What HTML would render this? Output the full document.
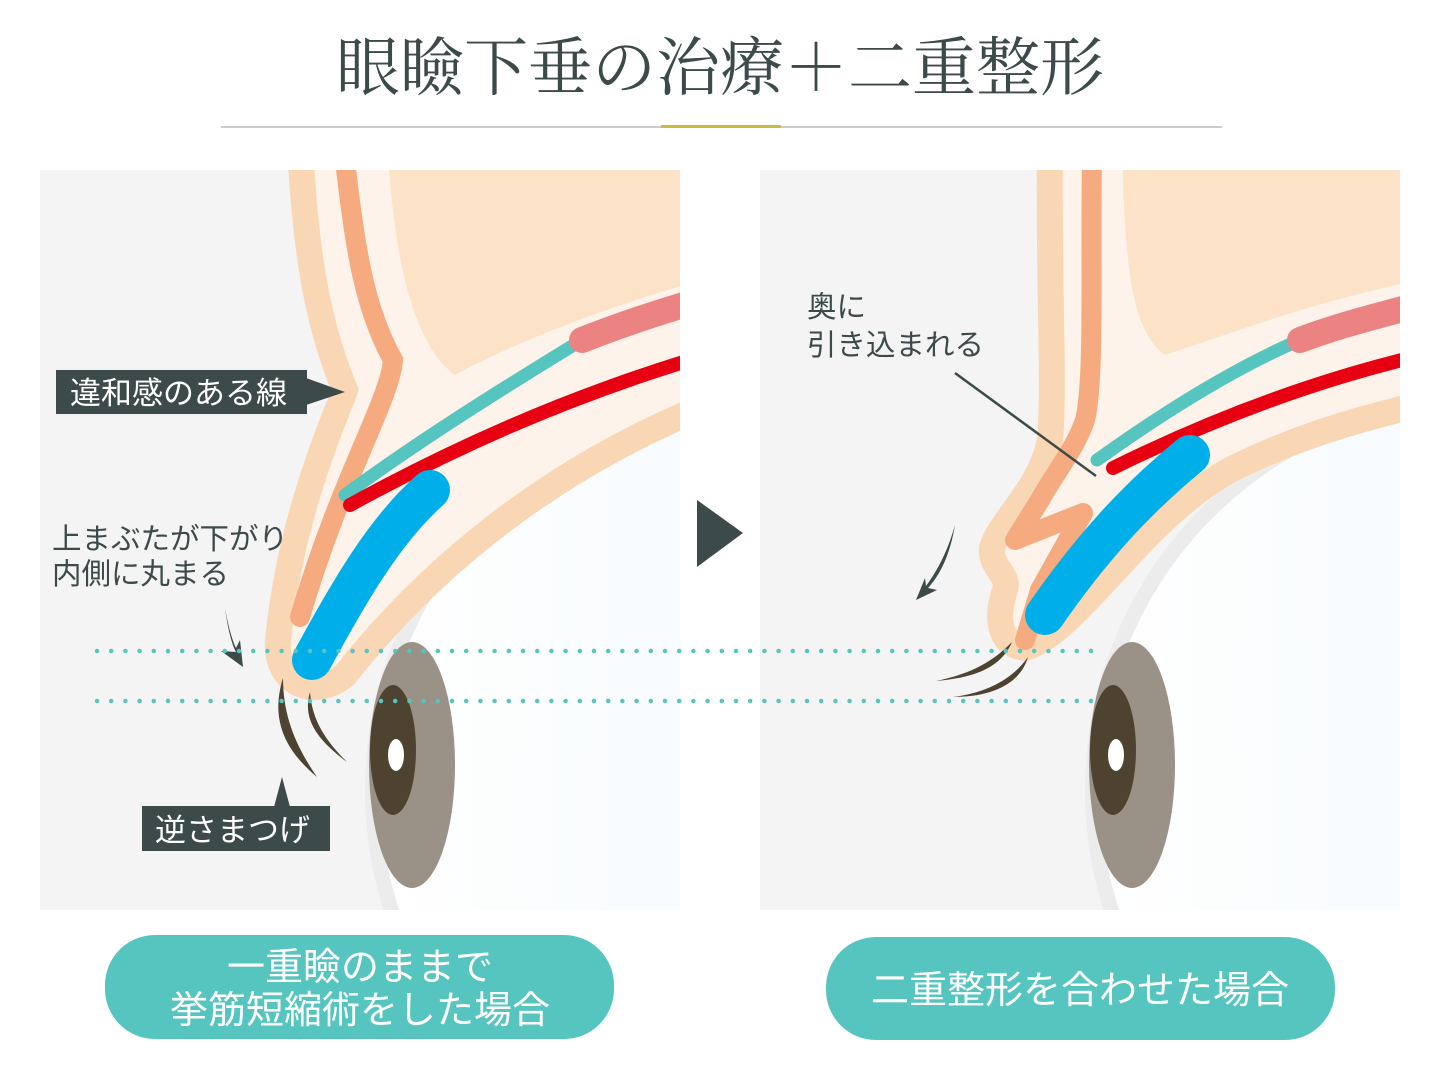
<!DOCTYPE html>
<html><head><meta charset="utf-8">
<style>
html,body{margin:0;padding:0;background:#fff;width:1440px;height:1080px;overflow:hidden;}
svg{display:block;}
text{font-family:"Liberation Sans","Noto Sans CJK JP",sans-serif;}
</style></head>
<body>
<svg width="1440" height="1080" viewBox="0 0 1440 1080" xmlns="http://www.w3.org/2000/svg">
<defs>
<clipPath id="cl"><rect x="40" y="170" width="640" height="740"/></clipPath>
<clipPath id="cr"><rect x="760" y="170" width="640" height="740"/></clipPath>
<linearGradient id="eg" x1="0" y1="0" x2="1" y2="0">
<stop offset="0" stop-color="#ffffff"/><stop offset="1" stop-color="#ecf6fb"/></linearGradient>
</defs>
<text x="720" y="90" text-anchor="middle" font-size="64" fill="#3d4a4a" font-family="'Noto Serif CJK SC','Liberation Serif',serif" style="font-family:'Noto Serif CJK SC','Liberation Serif',serif">眼瞼下垂の治療＋二重整形</text>
<rect x="221" y="126" width="1001" height="2" fill="#cccccc"/>
<rect x="661" y="125" width="120" height="3" fill="#c9bd3c"/>

<!-- LEFT PANEL -->
<g clip-path="url(#cl)">
<rect x="40" y="170" width="640" height="740" fill="#f4f4f4"/>
<circle cx="765" cy="790" r="400" fill="#ececec"/>
<circle cx="765" cy="790" r="385" fill="url(#eg)"/>
<path d="M300,140 C305,260 320,330 345,390 C330,430 290,520 278,640 C275,685 315,700 345,675 C420,580 540,470 720,400 L720,140 Z" fill="#fdf3ea" stroke="#fad7b4" stroke-width="26"/>
<path d="M388,150 C395,280 420,350 455,375 C520,340 600,310 700,280 L700,150 Z" fill="#fce3c8"/>
<path d="M345,160 C355,250 365,310 393,360 C390,400 340,480 300,617" fill="none" stroke="#f5aa80" stroke-width="20" stroke-linecap="round"/>
<path d="M345,495 C420,440 500,390 582,340" fill="none" stroke="#56c5bf" stroke-width="13" stroke-linecap="round"/>
<path d="M582,340 C620,325 650,315 690,303" fill="none" stroke="#ec8383" stroke-width="26" stroke-linecap="round"/>
<path d="M350,505 C450,450 560,400 690,360" fill="none" stroke="#e60012" stroke-width="14" stroke-linecap="round"/>
<path d="M312,660 C350,590 385,530 430,490" fill="none" stroke="#00afea" stroke-width="40" stroke-linecap="round"/>
<ellipse cx="412" cy="765" rx="43" ry="123" fill="#9a9287"/>
<ellipse cx="393" cy="750" rx="23" ry="65" fill="#4e4330"/>
<ellipse cx="396" cy="755" rx="8" ry="16" fill="#fff"/>
<path d="M283,678 C270,720 285,750 317,777 C295,745 283,715 283,678Z" fill="#4e4330"/>
<path d="M310,692 C302,720 318,740 347,762 C325,740 312,720 310,692Z" fill="#4e4330"/>
</g>
<rect x="56" y="370" width="251" height="44" fill="#3d4a4a"/>
<polygon points="306,378 345,392 306,405" fill="#3d4a4a"/>
<text x="70" y="404" font-size="31" fill="#fff">違和感のある線</text>
<rect x="142" y="806" width="188" height="45" fill="#3d4a4a"/>
<polygon points="274,807 282,777 290,807" fill="#3d4a4a"/>
<text x="155" y="841" font-size="31" fill="#fff">逆さまつげ</text>
<text x="52" y="549" font-size="29.5" fill="#3d4a4a">上まぶたが下がり</text>
<text x="52" y="584" font-size="29.5" fill="#3d4a4a">内側に丸まる</text>
<path d="M225,608 C228,630 232,645 236,652 L221,651 L243,667 L240,640 L236,648 C232,640 228,625 225,608Z" fill="#3d4a4a"/>

<!-- RIGHT PANEL -->
<g clip-path="url(#cr)">
<rect x="760" y="170" width="640" height="740" fill="#f4f4f4"/>
<circle cx="1485" cy="790" r="400" fill="#ececec"/>
<circle cx="1485" cy="790" r="385" fill="url(#eg)"/>
<path d="M1050,140 C1048,280 1055,380 1050,440 C1040,490 1000,520 992,548 C990,568 1010,575 1005,590 C995,620 1000,645 1025,648 C1080,630 1140,520 1230,470 C1290,440 1350,420 1440,400 L1440,140 Z" fill="#fdf3ea" stroke="#fad7b4" stroke-width="26"/>
<path d="M1122,150 C1125,260 1130,330 1165,355 C1240,330 1320,300 1420,280 L1420,150 Z" fill="#fce3c8"/>
<path d="M1092,160 C1090,260 1095,380 1085,420 C1075,450 1050,480 1040,500 L1015,540 L1083,513 L1040,590 L1025,640" fill="none" stroke="#f5aa80" stroke-width="20" stroke-linecap="round" stroke-linejoin="round"/>
<path d="M1097,460 C1160,415 1230,370 1300,340" fill="none" stroke="#56c5bf" stroke-width="13" stroke-linecap="round"/>
<path d="M1300,340 C1340,325 1370,318 1410,307" fill="none" stroke="#ec8383" stroke-width="26" stroke-linecap="round"/>
<path d="M1113,468 C1200,425 1300,385 1410,358" fill="none" stroke="#e60012" stroke-width="14" stroke-linecap="round"/>
<path d="M1045,615 C1090,550 1135,500 1190,455" fill="none" stroke="#00afea" stroke-width="40" stroke-linecap="round"/>
<ellipse cx="1132" cy="765" rx="43" ry="123" fill="#9a9287"/>
<ellipse cx="1113" cy="750" rx="23" ry="65" fill="#4e4330"/>
<ellipse cx="1116" cy="755" rx="8" ry="16" fill="#fff"/>
<path d="M1012,642 C990,665 965,675 936,681 C970,678 1000,670 1012,642Z" fill="#4e4330"/>
<path d="M1028,657 C1012,680 985,693 953,697 C990,697 1020,685 1028,657Z" fill="#4e4330"/>
</g>
<text x="807" y="317" font-size="29.5" fill="#3d4a4a">奥に</text>
<text x="807" y="355" font-size="29.5" fill="#3d4a4a">引き込まれる</text>
<line x1="955" y1="373" x2="1096" y2="476" stroke="#3d4a4a" stroke-width="2.5"/>
<path d="M955,525 C950,555 940,575 928,588 L937,590 L916,600 L925,578 L926,586 C938,570 948,550 955,525Z" fill="#3d4a4a"/>

<line x1="97" y1="651" x2="1100" y2="651" stroke="#56c5bf" stroke-width="4.5" stroke-linecap="round" stroke-dasharray="0 14.2"/>
<line x1="97" y1="701" x2="1100" y2="701" stroke="#56c5bf" stroke-width="4.5" stroke-linecap="round" stroke-dasharray="0 14.2"/>

<polygon points="697,500 743,533 697,567" fill="#3d4a4a"/>

<rect x="105" y="935" width="509" height="104" rx="50" fill="#56c5bf"/>
<text x="360" y="980" text-anchor="middle" font-size="38" fill="#fff">一重瞼のままで</text>
<text x="360" y="1023" text-anchor="middle" font-size="38" fill="#fff">挙筋短縮術をした場合</text>
<rect x="826" y="937" width="509" height="103" rx="50" fill="#56c5bf"/>
<text x="1080" y="1003" text-anchor="middle" font-size="38" fill="#fff">二重整形を合わせた場合</text>
</svg>
</body></html>
